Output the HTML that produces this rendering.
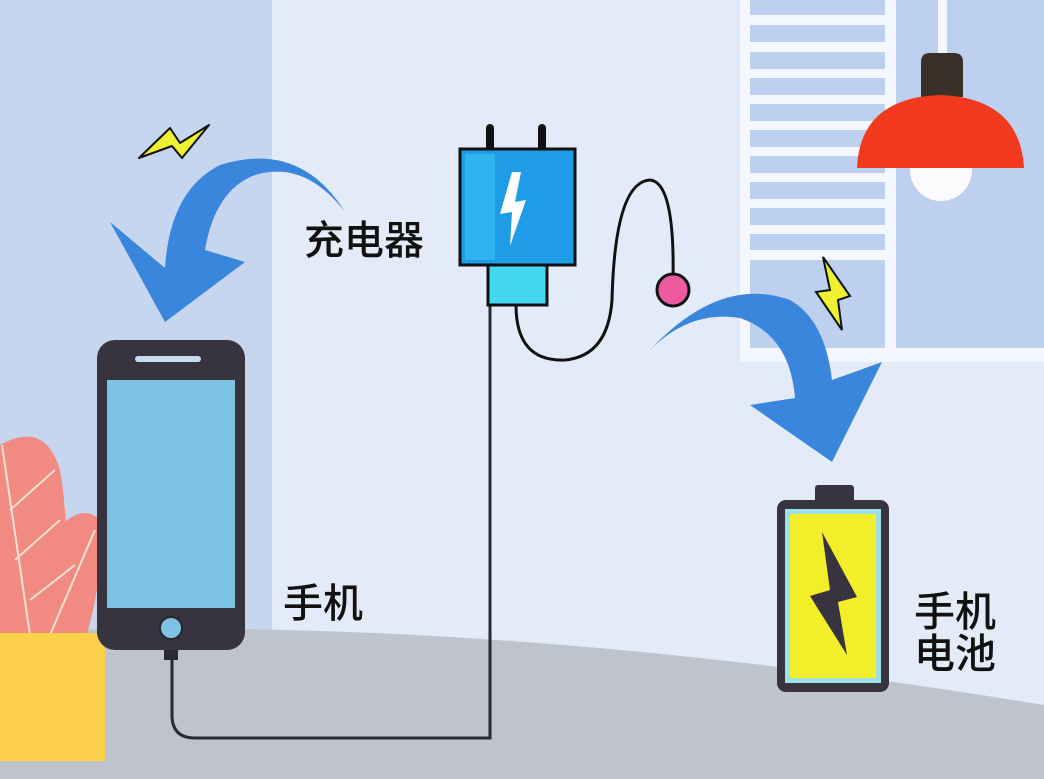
<!DOCTYPE html>
<html><head><meta charset="utf-8"><style>
html,body{margin:0;padding:0;width:1044px;height:779px;overflow:hidden;background:#e4ebf8}
svg{display:block}
text{font-family:"Liberation Sans","Noto Sans CJK SC",sans-serif;fill:#111;font-weight:500}
</style></head><body>
<svg width="1044" height="779" viewBox="0 0 1044 779" xmlns="http://www.w3.org/2000/svg">
<rect x="0" y="0" width="1044" height="779" fill="#e4ebf8"/>
<rect x="0" y="0" width="272" height="779" fill="#c6d6ef"/>
<!-- window -->
<rect x="740" y="0" width="304" height="362" fill="#f4f7fd"/>
<g fill="#bdd0f0">
<rect x="750" y="0" width="135" height="15"/>
<rect x="750" y="25" width="135" height="17"/>
<rect x="750" y="52" width="135" height="17"/>
<rect x="750" y="78" width="135" height="17"/>
<rect x="750" y="104" width="135" height="17"/>
<rect x="750" y="130" width="135" height="17"/>
<rect x="750" y="156" width="135" height="17"/>
<rect x="750" y="182" width="135" height="17"/>
<rect x="750" y="208" width="135" height="17"/>
<rect x="750" y="234" width="135" height="16"/>
<rect x="750" y="260" width="135" height="88"/>
<rect x="896" y="0" width="148" height="348"/>
</g>
<rect x="938" y="0" width="9" height="60" fill="#f4f7fd"/>
<!-- lamp -->
<circle cx="941" cy="170" r="31" fill="#fbfbfd"/>
<path d="M921,97 L921,62 Q921,53 930,53 L954,53 Q963,53 963,62 L963,97 Z" fill="#3a3028"/>
<path d="M857,168 Q860,98 940,95 Q1020,98 1024,168 Z" fill="#f23a1e"/>
<!-- floor -->
<path d="M0,632 Q480,612 1044,705 L1044,779 L0,779 Z" fill="#bfc3cb"/>
<!-- plant -->
<g fill="#f18a80">
<path d="M0,445 Q45,420 60,470 Q72,540 62,640 L0,640 Z"/>
<path d="M35,560 Q75,495 100,520 Q104,580 85,640 L30,640 Z"/>
</g>
<g stroke="#fbe0d6" stroke-width="2" fill="none">
<path d="M2,445 L30,635"/><path d="M95,530 L50,635"/><path d="M10,510 L55,470"/><path d="M15,560 L60,520"/><path d="M30,600 L75,565"/>
</g>
<rect x="0" y="633" width="105" height="128" fill="#fcd04a"/>
<!-- cords -->
<path d="M490,305 L490,738 L195,738 Q172,738 172,715 L172,655" fill="none" stroke="#2b2b33" stroke-width="3"/>
<path d="M516,305 Q516,362 565,360 Q608,356 612,300 Q615,182 650,180 Q675,182 673,280" fill="none" stroke="#111" stroke-width="3"/>
<circle cx="673" cy="290" r="16" fill="#ee5aa0" stroke="#111" stroke-width="3"/>
<!-- phone -->
<rect x="97" y="340" width="148" height="310" rx="18" fill="#38343f"/>
<rect x="107" y="380" width="128" height="228" fill="#7cc3e4"/>
<rect x="135" y="356" width="66" height="6" rx="3" fill="#c8dcef"/>
<circle cx="171" cy="628" r="11" fill="#7cc3e4" stroke="#2a2730" stroke-width="2"/>
<rect x="164" y="650" width="14" height="10" fill="#2b2b33"/>
<!-- charger -->
<rect x="486" y="124" width="8" height="28" rx="4" fill="#111"/>
<rect x="538" y="124" width="8" height="28" rx="4" fill="#111"/>
<rect x="460" y="149" width="115" height="116" fill="#1f9ce8" stroke="#111" stroke-width="3"/>
<rect x="465" y="154" width="30" height="106" fill="#2fb2ee"/>
<rect x="488" y="265" width="59" height="40" fill="#42d9f0" stroke="#111" stroke-width="3"/>
<path d="M512,172 L500,214 L512,212 L510,246 L526,200 L515,202 L521,172 Z" fill="#fff"/>
<!-- arrows -->
<path d="M345,212 Q300,140 220,165 Q170,190 165,268 L110,222 L165,322 L245,262 L205,250 Q215,190 255,175 Q305,160 345,212 Z" fill="#3a86dc"/>
<path d="M650,350 Q720,275 790,300 Q825,320 832,380 L882,362 L832,462 L750,405 L795,398 Q790,335 740,318 Q690,310 650,350 Z" fill="#3a86dc"/>
<!-- bolts -->
<path d="M139,158 L170,128 L180,143 L209,125 L182,158 L172,146 Z" fill="#eef030" stroke="#111" stroke-width="2" stroke-linejoin="round"/>
<path d="M823,257 L830,290 L816,292 L842,330 L838,300 L850,296 Z" fill="#eef030" stroke="#111" stroke-width="2"/>
<!-- battery -->
<rect x="815" y="485" width="39" height="20" rx="3" fill="#38343f"/>
<rect x="777" y="500" width="112" height="192" rx="9" fill="#38343f"/>
<rect x="785" y="509" width="96" height="174" fill="#9ee0e8"/>
<rect x="790" y="514" width="86" height="164" fill="#f2ee2a"/>
<path d="M822,532 L857,597 L838,602 L847,655 L810,596 L830,590 Z" fill="#38343f"/>
<!-- labels -->
<text x="304" y="254" font-size="40">充电器</text>
<text x="283" y="617" font-size="40">手机</text>
<text x="914" y="626" font-size="41">手机</text>
<text x="914" y="668" font-size="41">电池</text>
</svg>
</body></html>
